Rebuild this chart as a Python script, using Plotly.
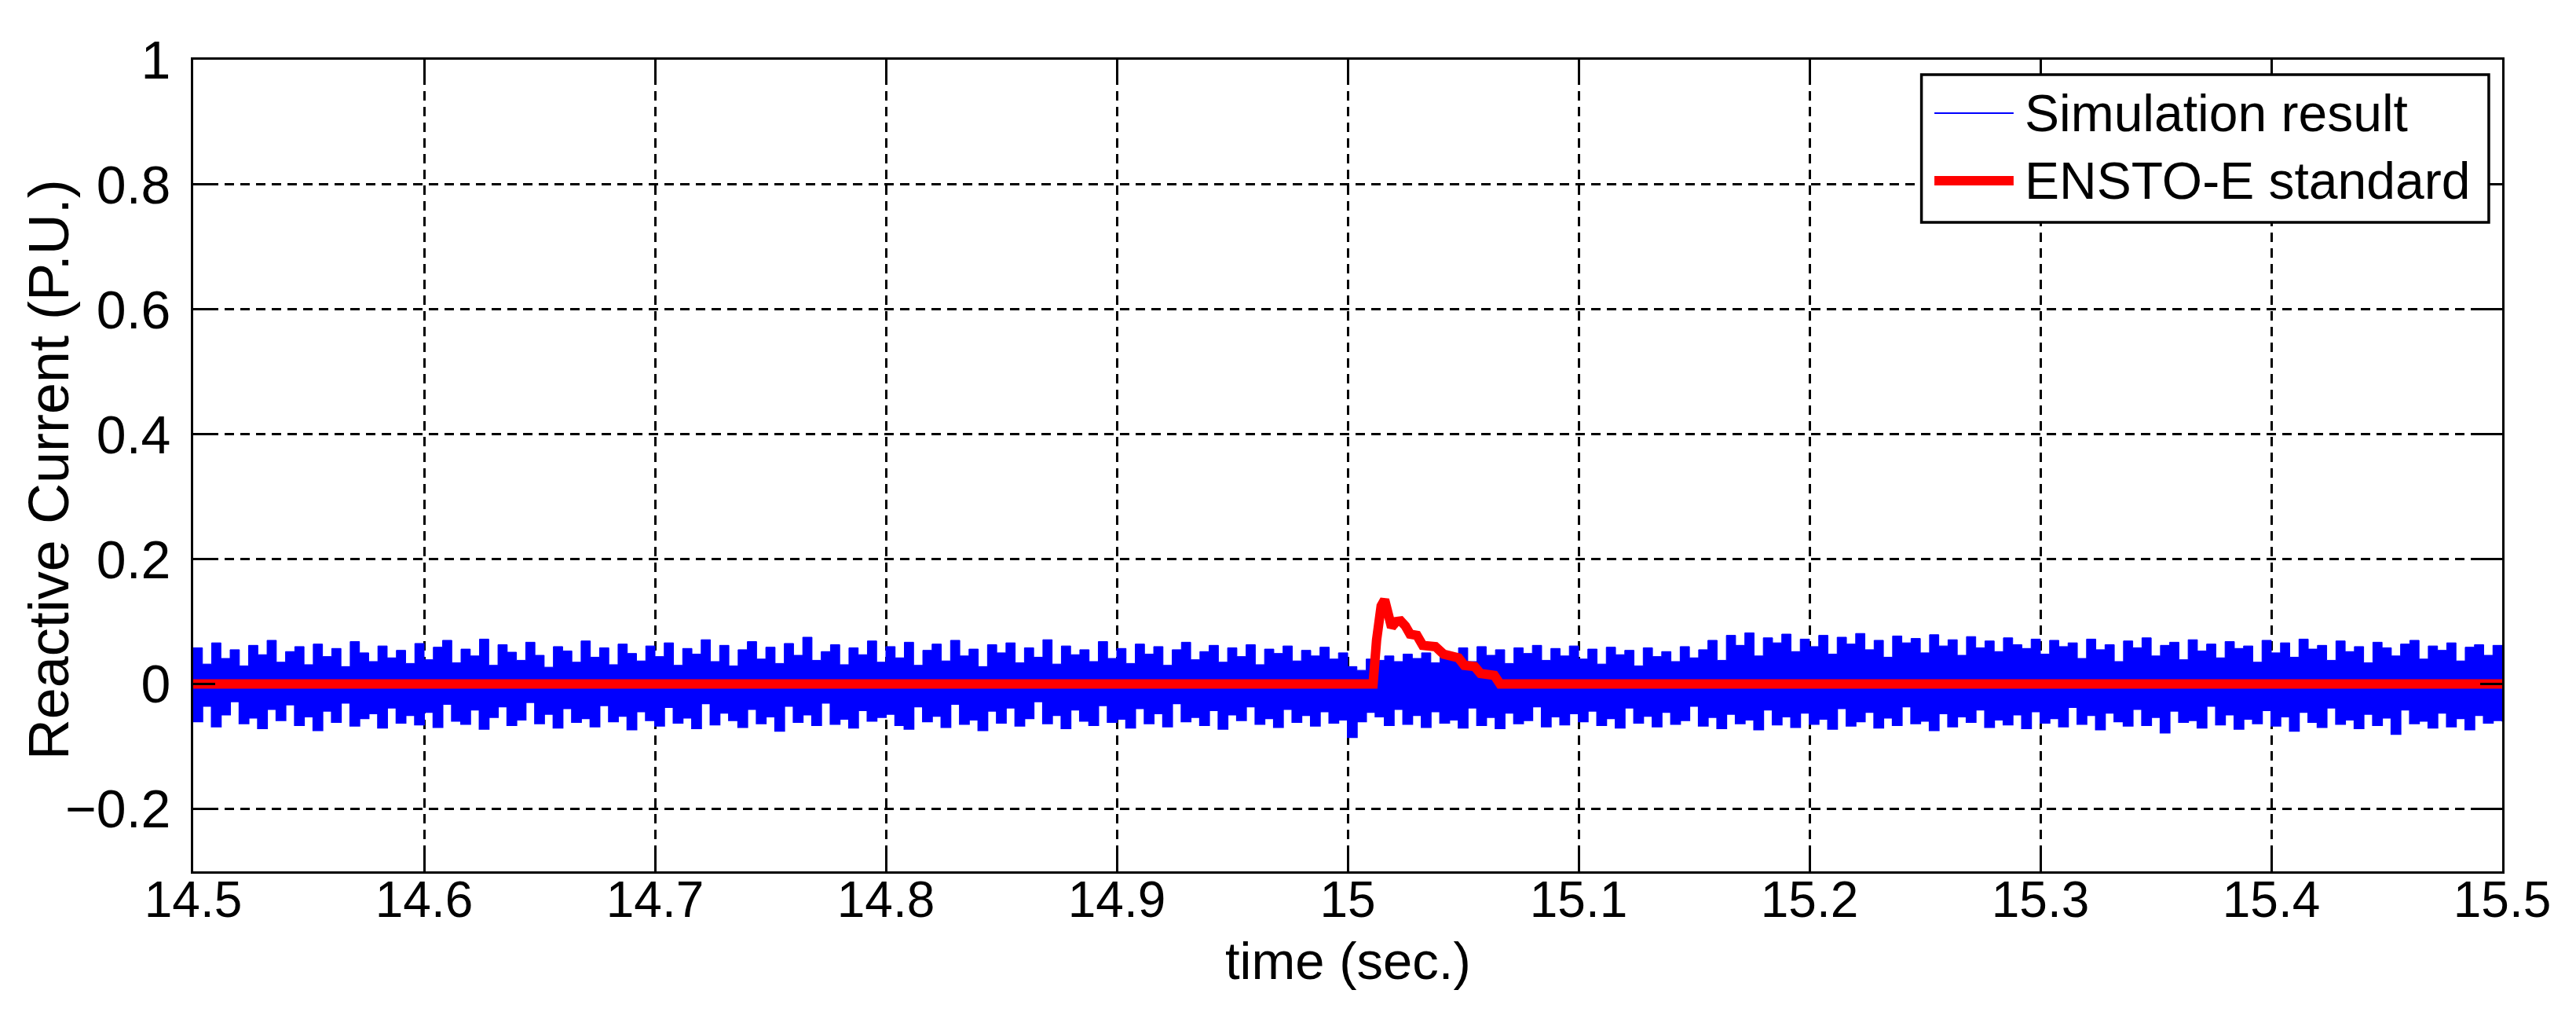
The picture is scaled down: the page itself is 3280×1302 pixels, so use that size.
import plotly.graph_objects as go

# ---------------- data ----------------
sample_start = 14.5      # s
sample_step = 0.004      # s, envelope reading resolution

# upper envelope of the simulated reactive current (P.U.), one row per 0.1 s
simulation_upper = [
    .058, .032, .066, .041, .055, .029, .062, .047, .070, .035, .052, .060, .031, .064, .044, .057, .028, .068, .050, .036, .061, .042, .054, .033, .065,
    .039, .059, .070, .034, .056, .045, .072, .030, .063, .051, .038, .067, .046, .027, .060, .053, .035, .069, .043, .058, .031, .064, .049, .037, .061,
    .044, .066, .030, .057, .048, .071, .036, .062, .029, .055, .068, .040, .059, .033, .065, .046, .075, .038, .052, .063, .031, .058, .047, .069, .035,
    .060, .042, .067, .030, .054, .064, .037, .070, .045, .056, .028, .063, .050, .066, .034, .058, .043, .071, .032, .061, .047, .055, .036, .068, .041,
    .057, .033, .064, .048, .060, .030, .055, .067, .039, .052, .062, .035, .058, .044, .063, .031, .056, .049, .061, .037, .054, .045, .059, .040, .050,
    .028, .022, .040, .038, .045, .036, .048, .041, .050, .034, .052, .043, .058, .036, .060, .046, .055, .033, .058, .049, .062, .038, .057, .045, .061,
    .040, .056, .032, .059, .047, .054, .029, .058, .044, .052, .036, .060, .042, .055, .070, .038, .078, .062, .082, .045, .074, .066, .080, .052, .072,
    .060, .078, .048, .075, .064, .081, .055, .070, .043, .077, .066, .073, .050, .079, .061, .071, .046, .076, .058, .069, .052, .074, .063, .057, .072,
    .048, .070, .060, .066, .041, .072, .055, .063, .036, .069, .058, .074, .045, .062, .067, .039, .071, .053, .064, .042, .068, .057, .061, .035, .070,
    .050, .066, .043, .072, .056, .062, .038, .069, .052, .060, .034, .067, .058, .045, .064, .070, .040, .061, .054, .066, .037, .059, .063, .046, .062,
    .055,
]

# lower envelope of the simulated reactive current (P.U.)
simulation_lower = [
    -.060, -.035, -.068, -.049, -.028, -.063, -.054, -.071, -.040, -.058, -.033, -.066, -.052, -.074, -.043, -.061, -.030, -.067, -.055, -.047, -.070, -.038, -.062, -.050, -.065,
    -.045, -.069, -.032, -.059, -.064, -.041, -.072, -.053, -.036, -.066, -.057, -.029, -.063, -.048, -.070, -.039, -.061, -.055, -.068, -.034, -.060, -.051, -.073, -.044, -.058,
    -.067, -.037, -.062, -.054, -.071, -.031, -.065, -.046, -.058, -.069, -.040, -.063, -.052, -.075, -.035, -.061, -.049, -.066, -.030, -.064, -.056, -.070, -.042, -.059, -.053,
    -.048, -.066, -.072, -.036, -.060, -.051, -.069, -.032, -.064, -.057, -.074, -.043, -.062, -.038, -.067, -.055, -.028, -.063, -.050, -.071, -.041, -.059, -.066, -.034, -.061,
    -.056, -.070, -.039, -.063, -.047, -.068, -.031, -.060, -.053, -.066, -.042, -.072, -.049, -.058, -.036, -.064, -.055, -.069, -.040, -.061, -.050, -.067, -.044, -.062, -.057,
    -.085, -.060, -.045, -.052, -.066, -.040, -.064, -.050, -.069, -.044, -.062, -.057, -.070, -.038, -.066, -.053, -.071, -.046, -.063, -.058, -.036, -.068, -.052, -.065, -.047,
    -.060, -.043, -.066, -.055, -.070, -.038, -.062, -.051, -.068, -.045, -.064, -.058, -.035, -.067, -.053, -.071, -.048, -.063, -.057, -.073, -.041, -.065, -.052, -.069, -.046,
    -.064, -.056, -.072, -.039, -.067, -.060, -.045, -.070, -.054, -.066, -.036, -.063, -.059, -.074, -.047, -.068, -.052, -.061, -.041, -.069, -.057, -.065, -.049, -.071, -.044,
    -.062, -.055, -.068, -.037, -.064, -.050, -.073, -.046, -.060, -.067, -.040, -.066, -.053, -.078, -.043, -.061, -.058, -.070, -.035, -.065, -.049, -.072, -.056, -.063, -.042,
    -.067, -.052, -.075, -.045, -.061, -.069, -.038, -.064, -.057, -.071, -.048, -.066, -.054, -.080, -.041, -.063, -.059, -.070, -.046, -.068, -.055, -.073, -.050, -.062, -.058,
    -.060,
]

sample_time = [round(sample_start + sample_step * i, 4) for i in range(len(simulation_upper))]
assert len(simulation_upper) == len(simulation_lower) == 251

# ENSTO-E standard curve (P.U.)
standard_time = [14.5, 15.011, 15.0125, 15.0145, 15.016, 15.0175, 15.019, 15.021, 15.023, 15.025,
                 15.027, 15.030, 15.0325, 15.038, 15.0415, 15.048, 15.0505, 15.055, 15.0575,
                 15.0635, 15.066, 15.5]
standard_value = [0.0, 0.0, 0.07, 0.125, 0.135, 0.11, 0.091, 0.10, 0.101, 0.093,
                  0.080, 0.078, 0.062, 0.060, 0.048, 0.042, 0.030, 0.028, 0.017,
                  0.014, 0.0, 0.0]

x_tick_values = [14.5, 14.6, 14.7, 14.8, 14.9, 15.0, 15.1, 15.2, 15.3, 15.4, 15.5]
x_tick_labels = ["14.5", "14.6", "14.7", "14.8", "14.9", "15", "15.1", "15.2", "15.3", "15.4", "15.5"]
y_tick_values = [-0.2, 0.0, 0.2, 0.4, 0.6, 0.8, 1.0]
y_tick_labels = ["\u22120.2", "0", "0.2", "0.4", "0.6", "0.8", "1"]

series_names = ["Simulation result", "ENSTO-E standard"]
x_title = "time (sec.)"
y_title = "Reactive Current (P.U.)"

# ---------------- figure ----------------
BLUE = "#0000FF"
RED = "#FF0000"
FONT = "Liberation Sans, Arial, sans-serif"

fig = go.Figure()
fig.add_trace(go.Scatter(
    x=sample_time, y=simulation_lower, mode="lines", name=series_names[0],
    line=dict(color=BLUE, width=2, shape="hv"), showlegend=False,
))
fig.add_trace(go.Scatter(
    x=sample_time, y=simulation_upper, mode="lines", name=series_names[0],
    line=dict(color=BLUE, width=1, shape="hv"), fill="tonexty", fillcolor=BLUE,
    showlegend=False,
))
fig.add_trace(go.Scatter(
    x=standard_time, y=standard_value, mode="lines", name=series_names[1],
    line=dict(color=RED, width=12), showlegend=False,
))

axis_common = dict(
    showline=True, linecolor="black", linewidth=3, mirror="ticks",
    ticks="inside", ticklen=28, tickwidth=3, tickcolor="black",
    showgrid=True, gridcolor="black", gridwidth=2.5, griddash="12px,8px",
    zeroline=False,
)

fig.update_xaxes(
    range=[14.5, 15.5], tickvals=x_tick_values, ticktext=x_tick_labels,
    tickfont=dict(family=FONT, size=64, color="black"),
    ticklabelstandoff=-22,
    **axis_common,
)
fig.update_yaxes(
    range=[-0.3, 1.0], tickvals=y_tick_values, ticktext=y_tick_labels,
    tickfont=dict(family=FONT, size=68, color="black"),
    ticklabelstandoff=12,
    **axis_common,
)

# axis titles placed as annotations (paper coordinates span the plot area)
fig.add_annotation(text=x_title, xref="paper", yref="paper", x=0.5, y=-0.110,
                   xanchor="center", yanchor="middle", showarrow=False,
                   font=dict(family=FONT, size=67, color="black"))
fig.add_annotation(text=y_title, xref="paper", yref="paper", x=-0.0625, y=0.4947,
                   xanchor="center", yanchor="middle", textangle=-90, showarrow=False,
                   font=dict(family=FONT, size=72, color="black"))

# legend box drawn in the MATLAB style
legend_box = dict(x0=0.7485, x1=0.9942, y0=0.7996, y1=0.9816)
legend_sample_x = (0.7541, 0.7884)
legend_rows_y = (0.9342, 0.8509)
legend_text_x = 0.7925
legend_colors = (BLUE, RED)
legend_widths = (2, 12)

fig.add_shape(type="rect", xref="paper", yref="paper", layer="above",
              fillcolor="white", line=dict(color="black", width=3.5), **legend_box)
for name, row_y, colour, lw in zip(series_names, legend_rows_y, legend_colors, legend_widths):
    fig.add_shape(type="line", xref="paper", yref="paper", layer="above",
                  x0=legend_sample_x[0], x1=legend_sample_x[1], y0=row_y, y1=row_y,
                  line=dict(color=colour, width=lw))
    fig.add_annotation(text=name, xref="paper", yref="paper", x=legend_text_x, y=row_y,
                       xanchor="left", yanchor="middle", showarrow=False,
                       font=dict(family=FONT, size=66, color="black"))

fig.update_layout(
    width=3280, height=1302,
    margin=dict(l=238, r=102, t=68, b=201, autoexpand=False),
    paper_bgcolor="white", plot_bgcolor="white",
    font=dict(family=FONT, color="black"),
    showlegend=False,
)

fig.write_html("out.html")
